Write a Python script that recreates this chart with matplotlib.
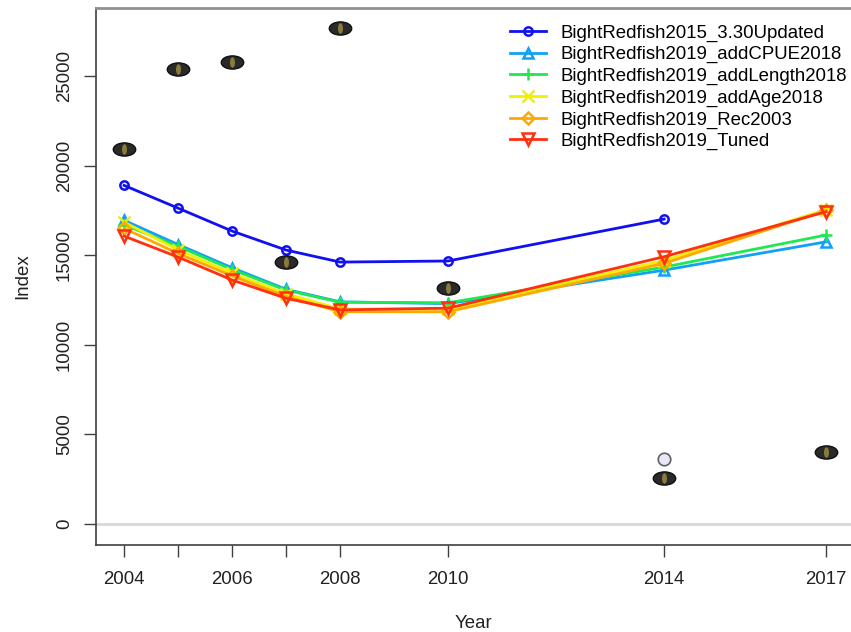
import matplotlib
matplotlib.use("Agg")
import matplotlib.pyplot as plt
from matplotlib.markers import MarkerStyle
from matplotlib.transforms import Affine2D

plt.rcParams["font.family"] = ["Liberation Sans", "DejaVu Sans"]

# DATA
years = [2004, 2005, 2006, 2007, 2008, 2010, 2014, 2017]
years_2015 = [2004, 2005, 2006, 2007, 2008, 2010, 2014]

model_names = ["BightRedfish2015_3.30Updated",
               "BightRedfish2019_addCPUE2018",
               "BightRedfish2019_addLength2018",
               "BightRedfish2019_addAge2018",
               "BightRedfish2019_Rec2003",
               "BightRedfish2019_Tuned"]

exp_2015 = [18900, 17630, 16350, 15290, 14620, 14680, 17020]
exp_cpue = [16950, 15600, 14300, 13100, 12400, 12300, 14170, 15750]
exp_length = [16700, 15500, 14200, 13050, 12380, 12350, 14340, 16130]
exp_age = [16850, 15300, 14000, 12850, 12000, 12000, 14700, 17550]
exp_rec = [16500, 15100, 13850, 12700, 11850, 11850, 14550, 17500]
exp_tuned = [16070, 14900, 13620, 12600, 11950, 12050, 14920, 17430]

obs_years = [2004, 2005, 2006, 2007, 2008, 2010, 2014, 2017]
obs_index = [20920, 25420, 25760, 14620, 27660, 13170, 2570, 4020]
obs_2015_year = [2014]
obs_2015_index = [3630]

xtick_pos = [2004, 2005, 2006, 2007, 2008, 2010, 2014, 2017]
xtick_lab = ["2004", "", "2006", "", "2008", "2010", "2014", "2017"]
ytick_pos = [0, 5000, 10000, 15000, 20000, 25000]

# STYLES
COLORS = ["#1010F0", "#10A0F8", "#20E850", "#F0F000", "#FFA800", "#FF3010"]
MARKERS = ["o", "^", "+", "x", "D", "v"]
MSIZE = [6, 7, 9, 8, 6, 8]
TXT = "#222222"
FS = 13.4

fig = plt.figure(figsize=(8.51, 6.32), dpi=100)
ax = fig.add_axes([96 / 851, 1 - 545 / 632, 1 - 96 / 851, (545 - 8) / 632])

# zero reference line
ax.axhline(0, color="#d8d8d8", lw=2, zorder=1)

series = [(years_2015, exp_2015), (years, exp_cpue), (years, exp_length),
          (years, exp_age), (years, exp_rec), (years, exp_tuned)]
for (xs, ys), name, c, m, ms in zip(series, model_names, COLORS, MARKERS, MSIZE):
	ax.plot(xs, ys,
	        color=c,
	        lw=2,
	        marker=m,
	        ms=ms,
	        mfc="none",
	        mec=c,
	        mew=1.8,
	        label=name,
	        zorder=3)

# Observed index (2015 model)
ax.plot(obs_2015_year, obs_2015_index, ls="none",
        marker="o", ms=9, mfc="#e8e8fa", mec="#606060", mew=1.2, zorder=4)

# Observed index (2019 models, overlapping -> pill shape)
pill = MarkerStyle("o", transform=Affine2D().scale(1.7, 1.0))
core = MarkerStyle("o", transform=Affine2D().scale(0.45, 0.95))
ax.plot(obs_years, obs_index, ls="none",
        marker=pill, ms=9.5, mfc="#2a2a2a", mec="#111111", mew=1, zorder=5)
ax.plot(obs_years, obs_index, ls="none",
        marker=core, ms=8, mfc="#8a7a3c", mec="none", zorder=6)

ax.set_xlim(2003.48, 2017.46)
ax.set_ylim(-1170, 28800)

ax.set_xticks(xtick_pos)
ax.set_xticklabels(xtick_lab, fontsize=FS, color=TXT)
ax.set_yticks(ytick_pos)
ax.set_yticklabels([str(v) for v in ytick_pos], fontsize=FS,
                   rotation=90, va="center", color=TXT)
ax.tick_params(axis="x", length=8.5, width=1, pad=10, color="#404040")
ax.tick_params(axis="y", length=8.5, width=1, pad=8, color="#404040")

ax.set_xlabel("Year", fontsize=FS, color=TXT, labelpad=20)
ax.set_ylabel("Index", fontsize=FS, color=TXT, labelpad=18)

for side in ["left", "bottom"]:
	ax.spines[side].set_color("#404040")
	ax.spines[side].set_linewidth(1.2)
ax.spines["top"].set_color("#909090")
ax.spines["top"].set_linewidth(2)
ax.spines["right"].set_visible(False)

ax.legend(loc="upper left", bbox_to_anchor=(0.539, 0.983),
          frameon=False, fontsize=FS, handlelength=1.9,
          handletextpad=0.8, labelspacing=0.24, borderaxespad=0.0)

plt.savefig("out.png", dpi=100)
plt.close()
